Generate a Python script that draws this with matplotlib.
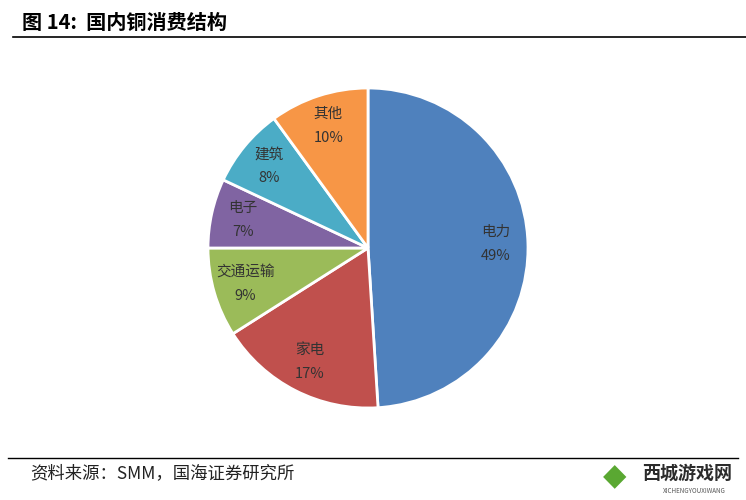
import matplotlib
matplotlib.use("Agg")
import matplotlib.pyplot as plt

plt.rcParams['font.family'] = ['Noto Sans CJK SC', 'DejaVu Sans']

# data
categories = ["电力", "家电", "交通运输", "电子", "建筑", "其他"]
shares = [49, 17, 9, 7, 8, 10]
colors = ["#4F81BD", "#C0504D", "#9BBB59", "#8064A2", "#4BACC6", "#F79646"]

W, H = 746, 500
fig = plt.figure(figsize=(W / 100, H / 100), dpi=100)

# pie axes: center (368, 248) px, radius 160 px
cx, cy, r = 368, 248, 160
ax = fig.add_axes([(cx - r) / W, 1 - (cy + r) / H, 2 * r / W, 2 * r / H])
labels = [f"{c}\n{v}%" for c, v in zip(categories, shares)]
wedges, texts = ax.pie(shares, colors=colors, startangle=90, counterclock=False,
                       radius=1, labels=labels, labeldistance=0.8,
                       wedgeprops=dict(edgecolor="white", linewidth=2),
                       textprops=dict(fontsize=10.5, color="#333333",
                                      ha="center", va="center",
                                      linespacing=1.9))
for t in texts:
    t.set_horizontalalignment("center")
ax.set_xlim(-1.0, 1.0)
ax.set_ylim(-1.0, 1.0)
ax.set_aspect("equal")

# title and rule
fig.text(22 / W, 1 - 22 / H, "图 14:  国内铜消费结构", fontsize=14.5,
         fontweight="bold", ha="left", va="center", color="black")
fig.add_artist(plt.Line2D([13 / W, 1.0], [1 - 37 / H] * 2, color="black", lw=1.2))

# footer
fig.add_artist(plt.Line2D([8 / W, 738 / W], [1 - 458 / H] * 2, color="black", lw=1.0))
fig.text(30 / W, 1 - 473 / H, "资料来源：SMM，国海证券研究所", fontsize=12.5,
         ha="left", va="center", color="#222222")

# watermark
fig.text(642 / W, 1 - 473 / H, "西城游戏网", fontsize=13, fontweight="bold",
         ha="left", va="center", color="#2b2b2b")
fig.text(694 / W, 1 - 491 / H, "XICHENGYOUXIWANG", fontsize=4.5,
         ha="center", va="center", color="#555555")
fig.text(615 / W, 1 - 477 / H, "◆", fontsize=22, ha="center", va="center",
         color="#5aa832", family=["DejaVu Sans"])

fig.savefig("out.png", dpi=100)
